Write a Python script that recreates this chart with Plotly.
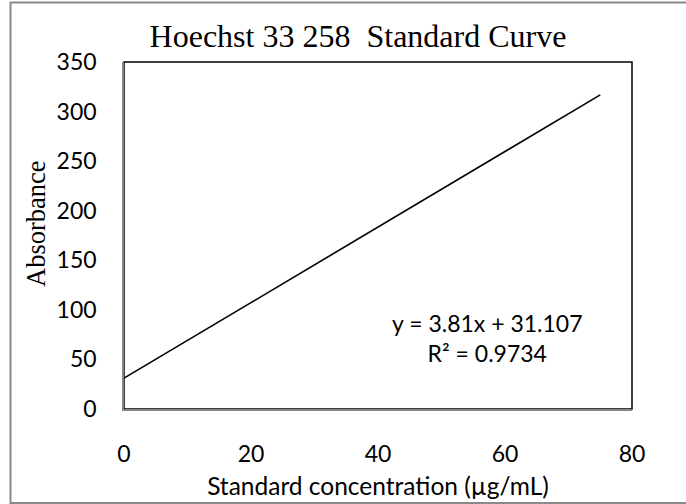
import plotly.graph_objects as go

# Linear fit of the Hoechst 33258 standard curve
slope = 3.81
intercept = 31.107
r_squared = 0.9734
x_span = [0, 75]           # concentration range covered by the standards (µg/mL)

x_ticks = [0, 20, 40, 60, 80]
y_ticks = [0, 50, 100, 150, 200, 250, 300, 350]

W, H = 686, 504
L, R, T, B = 124, 54, 62, 95
pw, ph = W - L - R, H - T - B

fit_y = [slope * x + intercept for x in x_span]

sans = "Lato, 'Open Sans', sans-serif"
serif = "'Liberation Serif', 'Times New Roman', serif"

fig = go.Figure()
fig.add_trace(go.Scatter(
    x=x_span, y=fit_y, mode="lines",
    line=dict(color="black", width=1.6),
    hoverinfo="skip", showlegend=False,
))

def px_x(px):
    return (px - L) / pw

def px_y(py):
    return (H - B - py) / ph

# outer chart frame
fig.add_shape(type="rect", xref="paper", yref="paper",
              x0=px_x(10.5), x1=px_x(700), y0=px_y(503), y1=px_y(2.5),
              line=dict(color="#8a8a8a", width=2), layer="below")
# plot-area border
fig.add_shape(type="rect", xref="paper", yref="paper",
              x0=0, x1=1, y0=0, y1=1,
              line=dict(color="black", width=1.5), layer="below")

fig.add_annotation(
    x=57.3, y=72, xref="x", yref="y",
    text=f"y = {slope}x + {intercept}<br>R² = {r_squared}",
    showarrow=False, align="center",
    font=dict(family=sans, size=23, color="black"),
)

# vertical axis title
fig.add_annotation(
    x=px_x(36), y=px_y(224), xref="paper", yref="paper",
    text="Absorbance", textangle=-90, showarrow=False,
    xanchor="center", yanchor="middle",
    font=dict(family=serif, size=26.5, color="black"),
)

fig.update_layout(
    width=W, height=H,
    margin=dict(l=L, r=R, t=T, b=B),
    paper_bgcolor="white", plot_bgcolor="white",
    title=dict(text="Hoechst 33 258\u00a0 Standard Curve",
               x=358 / W, xanchor="center",
               y=1 - 36 / H, yanchor="middle",
               font=dict(family=serif, size=32, color="black")),
    font=dict(family=sans, color="black"),
)

fig.update_xaxes(
    range=[0, 80], tickvals=x_ticks, showgrid=False, zeroline=False,
    showline=True, linecolor="#868686", linewidth=1.5, automargin=False,
    ticks="outside", ticklen=24, tickcolor="rgba(0,0,0,0)",
    tickfont=dict(family=sans, size=23, color="black"),
    title=dict(text="Standard concentration (µg/mL)", standoff=12,
               font=dict(family=sans, size=24.5, color="black")),
)
fig.update_yaxes(
    range=[0, 350], tickvals=y_ticks, showgrid=False, zeroline=False,
    showline=True, linecolor="#868686", linewidth=1.5, automargin=False,
    ticks="outside", ticklen=21, tickcolor="rgba(0,0,0,0)",
    tickfont=dict(family=sans, size=23, color="black"),
)

fig.write_html("out.html")
